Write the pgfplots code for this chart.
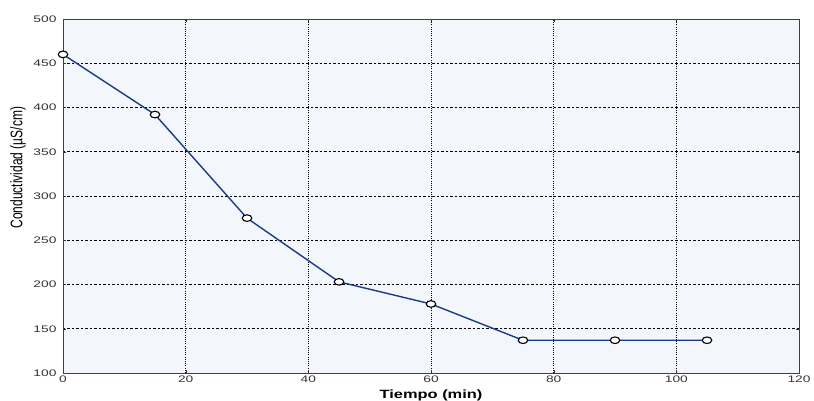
\documentclass[border=0pt]{standalone}
\usepackage{fontspec}
\setmainfont{Liberation Sans}
\usepackage{pgfplots}
\pgfplotsset{compat=1.18}

\definecolor{bgblue}{HTML}{F3F7FC}
\definecolor{linenavy}{HTML}{1C3A85}

\begin{document}
\begin{tikzpicture}
  \useasboundingbox (-63pt,-28pt) rectangle (751pt,373pt);
  \begin{axis}[
    at={(0,0)}, anchor=south west,
    scale only axis,
    width=736pt, height=354pt,
    xmin=0, xmax=120, ymin=100, ymax=500,
    xtick={0,20,...,120}, ytick={100,150,...,500},
    axis background/.style={fill=bgblue},
    axis line style={black!75, line width=0.8pt},
    grid=major,
    x grid style={black, line width=0.5pt, dash pattern=on 1pt off 1.2pt},
    y grid style={black, line width=0.5pt, dash pattern=on 2.5pt off 2pt},
    major tick length=3pt,
    tick style={black!80},
    tick label style={font=\fontsize{9.5}{11}\selectfont, text=black!80, xscale=1.45},
    /pgf/number format/assume math mode=true,
    xticklabel style={yshift=1pt},
    yticklabel style={xshift=-1pt},
    xlabel={\scalebox{1.37}[1]{\textbf{Tiempo (min)}}},
    xlabel style={font=\fontsize{12}{14}\selectfont, at={(axis description cs:0.5,-0.062)}, anchor=center},
    ylabel={\scalebox{1}[1.4]{Conductividad (µS/cm)}},
    ylabel style={font=\fontsize{12}{14}\selectfont, at={(axis description cs:-0.061,0.58)}, anchor=center},
  ]
    \addplot[color=linenavy, line width=1.4pt,
      mark=*, mark options={fill=white, draw=black, line width=1.1pt, xscale=1.45}, mark size=3.3pt]
      coordinates {(0,460) (15,392) (30,275) (45,203) (60,178) (75,137) (90,137) (105,137)};
  \end{axis}
\end{tikzpicture}
\end{document}
